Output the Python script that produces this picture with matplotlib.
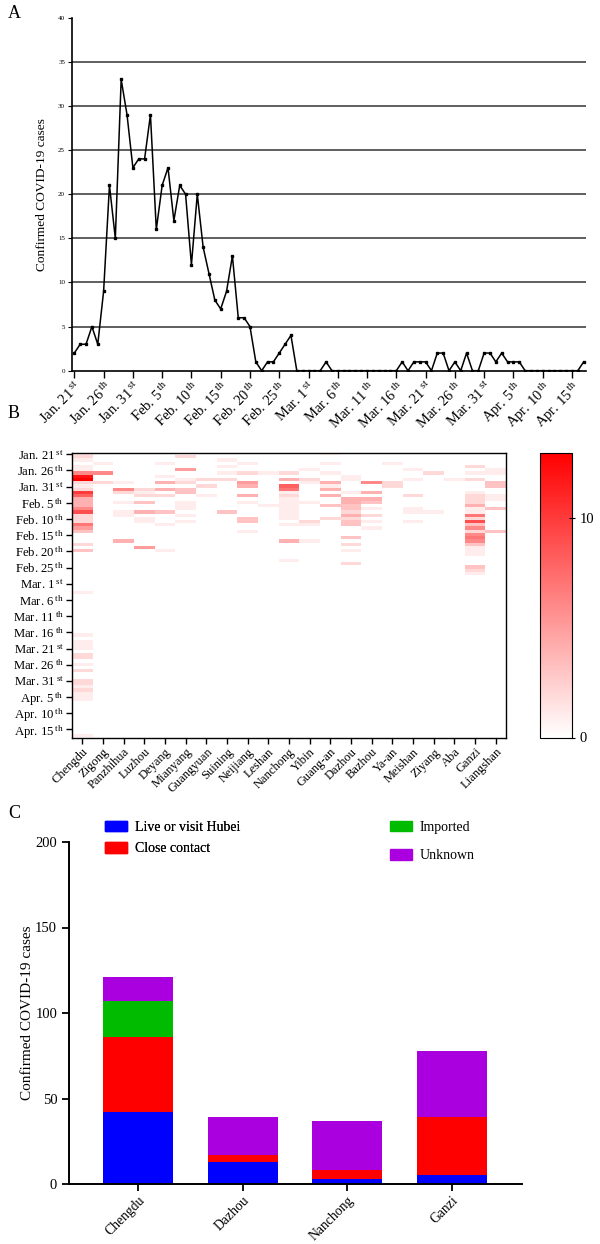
import numpy as np
import matplotlib
matplotlib.use("Agg")
import matplotlib.pyplot as plt
from matplotlib.colors import LinearSegmentedColormap
from matplotlib.patches import Patch

plt.rcParams['font.family'] = ['Liberation Serif', 'DejaVu Serif']
plt.rcParams['mathtext.fontset'] = 'custom'
plt.rcParams['mathtext.rm'] = 'Liberation Serif'
plt.rcParams['mathtext.it'] = 'Liberation Serif:italic'

# ---------------- data ----------------
# Panel A: daily confirmed cases, Jan 21 .. Apr 17 (88 days)
cases_jan = [2, 3, 3, 5, 3, 9, 21, 15, 33, 29, 23]                      # Jan 21-31
cases_feb = [24, 24, 29, 16, 21, 23, 17, 21, 20, 12,                    # Feb 1-10
             20, 14, 11, 8, 7, 9, 13, 6, 6, 5,                          # Feb 11-20
             1, 0, 1, 1, 2, 3, 4, 0, 0]                                 # Feb 21-29
cases_mar = [0, 0, 0, 1, 0, 0, 0, 0, 0, 0,                              # Mar 1-10
             0, 0, 0, 0, 0, 0, 1, 0, 1, 1,                              # Mar 11-20
             1, 0, 2, 2, 0, 1, 0, 2, 0, 0, 2]                           # Mar 21-31
cases_apr = [2, 1, 2, 1, 1, 1, 0, 0, 0, 0,                              # Apr 1-10
             0, 0, 0, 0, 0, 0, 1]                                       # Apr 11-17
daily_cases = cases_jan + cases_feb + cases_mar + cases_apr
date_tick_days = ["Jan. 21", "Jan. 26", "Jan. 31", "Feb. 5", "Feb. 10", "Feb. 15",
                  "Feb. 20", "Feb. 25", "Mar. 1", "Mar. 6", "Mar. 11", "Mar. 16",
                  "Mar. 21", "Mar. 26", "Mar. 31", "Apr. 5", "Apr. 10", "Apr. 15"]
date_tick_suffix = ["st", "th", "st", "th", "th", "th", "th", "th", "st", "th", "th",
                    "th", "st", "th", "st", "th", "th", "th"]

# Panel B: cases per city per day (day index from Jan 21: value)
cities = ["Chengdu", "Zigong", "Panzhihua", "Luzhou", "Deyang", "Mianyang",
          "Guangyuan", "Suining", "Neijiang", "Leshan", "Nanchong", "Yibin",
          "Guang-an", "Dazhou", "Bazhou", "Ya-an", "Meishan", "Ziyang", "Aba",
          "Ganzi", "Liangshan"]
chengdu = {0: 1, 1: 2, 2: 1, 4: 1, 5: 1, 6: 6, 7: 12, 8: 13, 9: 2, 10: 1, 11: 2,
           12: 10, 13: 8, 14: 4, 15: 4, 16: 4, 17: 6, 18: 9, 19: 2, 20: 2, 21: 2,
           22: 7, 23: 5, 24: 3, 28: 2, 30: 3, 43: 1, 56: 1, 58: 1, 59: 1, 60: 1,
           62: 2, 63: 2, 65: 1, 67: 2, 70: 2, 71: 2, 72: 1, 73: 2, 74: 1, 75: 1,
           76: 1, 87: 1}
zigong = {3: 1, 6: 6, 9: 2}
panzhihua = {9: 1, 11: 6, 12: 2, 15: 1, 18: 1, 19: 1, 27: 4}
luzhou = {11: 2, 12: 1, 13: 2, 15: 3, 18: 4, 20: 1, 21: 1, 29: 5}
deyang = {3: 1, 7: 1, 9: 4, 11: 4, 13: 2, 18: 3, 22: 1, 30: 1}
mianyang = {1: 2, 5: 5, 8: 1, 9: 2, 11: 3, 12: 3, 15: 1, 16: 1, 17: 1, 19: 1, 21: 1}
guangyuan = {8: 2, 10: 2, 13: 1}
suining = {2: 1, 4: 1, 6: 1, 8: 2, 18: 3}
neijiang = {3: 1, 6: 2, 9: 5, 10: 4, 13: 4, 15: 1, 20: 3, 21: 3, 24: 1}
leshan = {6: 1, 16: 1}
nanchong = {6: 2, 8: 4, 10: 8, 11: 7, 12: 1, 13: 2, 14: 1, 15: 1, 16: 1, 17: 1,
            18: 1, 19: 1, 20: 1, 22: 1, 27: 4, 33: 1}
yibin = {5: 1, 8: 2, 9: 1, 15: 1, 21: 2, 22: 1, 27: 1}
guangan = {0: 1, 3: 1, 6: 1, 9: 4, 10: 1, 11: 4, 13: 4, 16: 3, 20: 2}
dazhou = {7: 1, 8: 1, 12: 1, 14: 4, 15: 4, 16: 3, 17: 3, 18: 2, 19: 4, 20: 2,
          21: 3, 22: 3, 26: 3, 28: 2, 30: 1, 34: 2}
bazhou = {9: 6, 12: 4, 14: 4, 15: 3, 17: 1, 19: 2, 21: 1, 23: 1}
yaan = {3: 1, 9: 2, 10: 2}
meishan = {5: 1, 8: 1, 13: 2, 17: 1, 18: 1, 21: 1}
ziyang = {6: 2, 18: 1}
aba = {8: 1}
ganzi = {4: 2, 6: 1, 8: 2, 12: 1, 13: 2, 14: 2, 15: 2, 16: 4, 17: 1, 18: 1, 19: 7,
         20: 2, 21: 9, 22: 3, 23: 6, 24: 2, 25: 6, 26: 7, 27: 6, 28: 3, 29: 1,
         30: 1, 31: 1, 35: 3, 36: 2, 37: 1}
liangshan = {5: 1, 6: 1, 9: 3, 10: 3, 13: 1, 14: 1, 17: 3, 24: 3}
city_series = [chengdu, zigong, panzhihua, luzhou, deyang, mianyang, guangyuan,
               suining, neijiang, leshan, nanchong, yibin, guangan, dazhou, bazhou,
               yaan, meishan, ziyang, aba, ganzi, liangshan]
heat_vmax = 13
colorbar_ticks = [0, 10]

# Panel C: source of infection
c_cities = ["Chengdu", "Dazhou", "Nanchong", "Ganzi"]
hubei = [42, 13, 3, 5]
close_contact = [44, 4, 5, 34]
imported = [21, 0, 0, 0]
unknown = [14, 22, 29, 39]

# ---------------- figure ----------------
fig = plt.figure(figsize=(6.0, 12.44), dpi=100)
FH = 1244.0
FW = 600.0

def fy(y):
    return 1 - y / FH

def sup(day, suf):
    return day + r"$\,^{\mathrm{" + suf + "}}$"

tick_labels = [sup(d, s) for d, s in zip(date_tick_days, date_tick_suffix)]
n_days = len(daily_cases)
tick_pos = np.arange(0, 5 * len(tick_labels), 5)

# ---------- Panel A ----------
axA = fig.add_axes([72 / FW, fy(370.7), (586 - 72) / FW, (370.7 - 17.7) / FH])
x = np.arange(n_days)
for g in range(5, 40, 5):
    axA.axhline(g, color='#333333', lw=1.1, zorder=1)
axA.plot(x, daily_cases, color='black', lw=1.1, marker='s', ms=1.8, zorder=3)
axA.set_xlim(-0.4, 87.4)
axA.set_ylim(0, 40)
axA.set_yticks(np.arange(0, 41, 5))
axA.tick_params(axis='y', labelsize=5, length=3, width=0.8, pad=2)
axA.set_xticks(tick_pos)
axA.set_xticklabels(tick_labels, rotation=45, ha='right', rotation_mode='anchor',
                    fontsize=10.5)
axA.tick_params(axis='x', length=5, width=1.0, pad=1)
for s in ['top', 'right']:
    axA.spines[s].set_visible(False)
for s in ['left', 'bottom']:
    axA.spines[s].set_linewidth(1.2)
axA.set_ylabel("Confirmed COVID-19 cases", fontsize=9.6, labelpad=7)

# ---------- Panel B ----------
heat = np.zeros((n_days, len(cities)))
for ci, series in enumerate(city_series):
    for day, val in series.items():
        heat[day, ci] = val
cmap = LinearSegmentedColormap.from_list('wr', ['#ffffff', '#ff0000'])
axB = fig.add_axes([72 / FW, fy(737.5), (506 - 72) / FW, (737.5 - 452.7) / FH])
im = axB.imshow(heat, cmap=cmap, vmin=0, vmax=heat_vmax, aspect='auto',
                interpolation='nearest')
axB.set_yticks(tick_pos)
axB.set_yticklabels(tick_labels, fontsize=9.2)
axB.set_xticks(np.arange(len(cities)))
axB.set_xticklabels(cities, rotation=45, ha='right', rotation_mode='anchor',
                    fontsize=9)
axB.tick_params(axis='both', length=4, width=1.0, pad=2)
for s in axB.spines.values():
    s.set_linewidth(1.0)

cax = fig.add_axes([540 / FW, fy(737.5), 32 / FW, (737.5 - 452.7) / FH])
cb = fig.colorbar(im, cax=cax, ticks=colorbar_ticks)
cb.outline.set_linewidth(0.8)
cax.tick_params(labelsize=10.5, length=4, width=0.8, direction='inout')

# ---------- Panel C ----------
axC = fig.add_axes([69 / FW, fy(1184), (522 - 69) / FW, (1184 - 842) / FH])
xc = np.arange(len(c_cities))
bw = 0.67
b1 = np.array(hubei)
b2 = b1 + np.array(close_contact)
b3 = b2 + np.array(imported)
col_blue, col_red, col_green, col_purple = '#0000ff', '#ff0000', '#00bb00', '#aa00e0'
axC.bar(xc, hubei, bw, color=col_blue)
axC.bar(xc, close_contact, bw, bottom=b1, color=col_red)
axC.bar(xc, imported, bw, bottom=b2, color=col_green)
axC.bar(xc, unknown, bw, bottom=b3, color=col_purple)
axC.set_xlim(-0.66, 3.67)
axC.set_ylim(0, 200)
axC.set_yticks(np.arange(0, 201, 50))
axC.set_xticks(xc)
axC.set_xticklabels(c_cities, rotation=45, ha='right', rotation_mode='anchor',
                    fontsize=9.8)
axC.tick_params(axis='y', labelsize=10.5, length=5, width=1.3)
axC.tick_params(axis='x', length=5, width=1.3, pad=2)
for s in ['top', 'right']:
    axC.spines[s].set_visible(False)
for s in ['left', 'bottom']:
    axC.spines[s].set_linewidth(1.4)
axC.set_ylabel("Confirmed COVID-19 cases", fontsize=11, labelpad=1)

leg1 = fig.legend(handles=[Patch(color=col_blue, label='Live or visit Hubei'),
                           Patch(color=col_red, label='Close contact')],
                  loc='upper left', bbox_to_anchor=(105 / FW, fy(821)),
                  frameon=False, fontsize=10, handlelength=1.6,
                  handleheight=0.75, handletextpad=0.55, labelspacing=0.6,
                  borderpad=0, borderaxespad=0)
leg2 = fig.legend(handles=[Patch(color=col_green, label='Imported'),
                           Patch(color=col_purple, label='Unknown')],
                  loc='upper left', bbox_to_anchor=(390 / FW, fy(821)),
                  frameon=False, fontsize=10, handlelength=1.6,
                  handleheight=0.75, handletextpad=0.55, labelspacing=1.1,
                  borderpad=0, borderaxespad=0)
fig.add_artist(leg1)

# panel letters
fig.text(8 / FW, fy(14), "A", fontsize=13, va='center', ha='left')
fig.text(8 / FW, fy(414), "B", fontsize=13, va='center', ha='left')
fig.text(8 / FW, fy(813), "C", fontsize=13, va='center', ha='left')

fig.savefig("out.png", dpi=100)
